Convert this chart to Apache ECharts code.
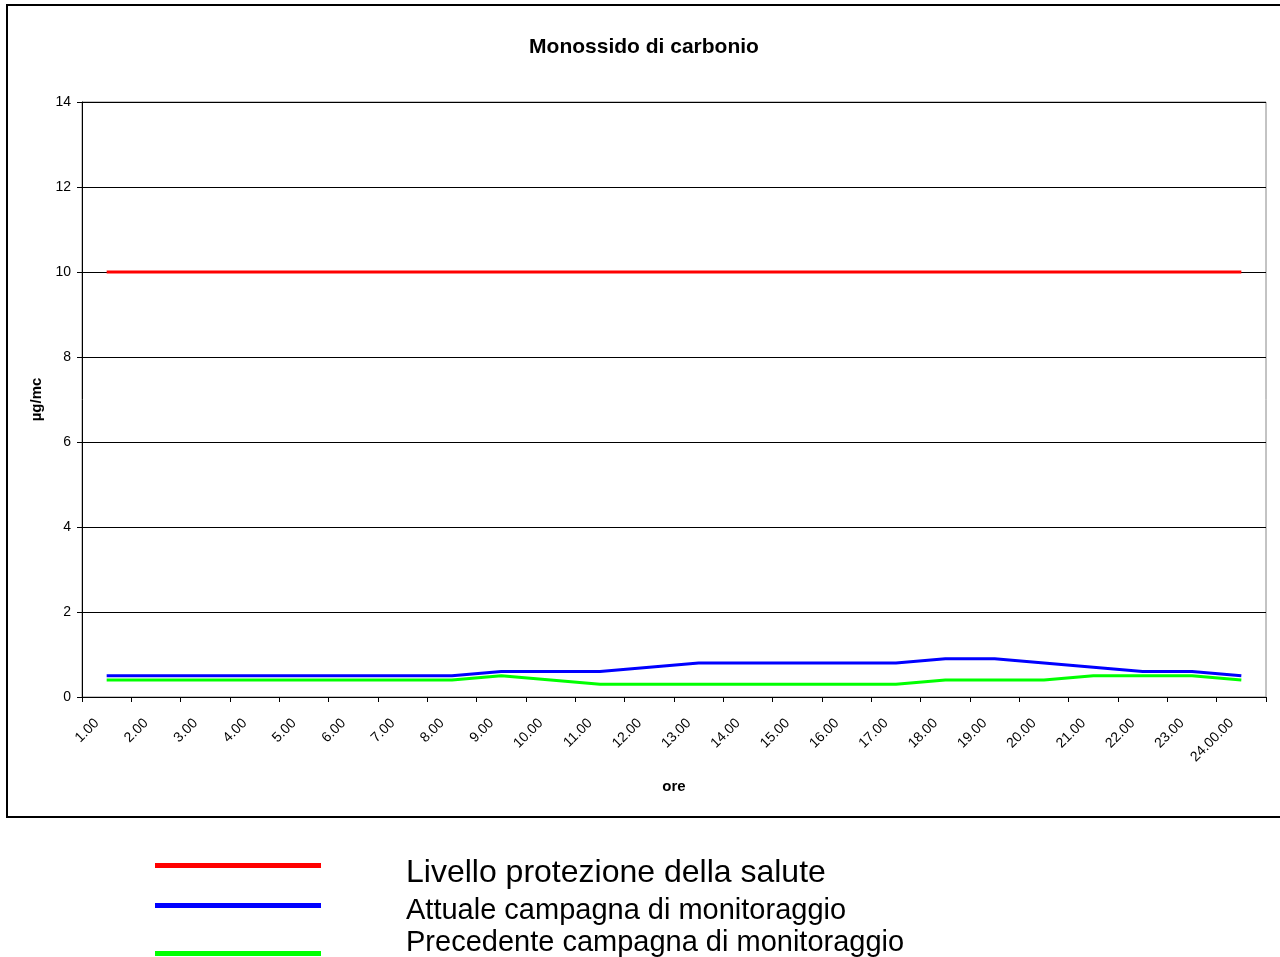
<!DOCTYPE html>
<html>
<head>
<meta charset="utf-8">
<script src="https://cdn.jsdelivr.net/npm/echarts@6/dist/echarts.min.js"></script>
<style>
html,body{margin:0;padding:0;background:#fff;}
#chart{width:1280px;height:957px;}
</style>
</head>
<body>
<div id="chart"></div>
<script>
var categories = ['1.00','2.00','3.00','4.00','5.00','6.00','7.00','8.00','9.00','10.00','11.00','12.00','13.00','14.00','15.00','16.00','17.00','18.00','19.00','20.00','21.00','22.00','23.00','24.00.00'];
var livello = [10,10,10,10,10,10,10,10,10,10,10,10,10,10,10,10,10,10,10,10,10,10,10,10];
var attuale = [0.5,0.5,0.5,0.5,0.5,0.5,0.5,0.5,0.6,0.6,0.6,0.7,0.8,0.8,0.8,0.8,0.8,0.9,0.9,0.8,0.7,0.6,0.6,0.5];
var precedente = [0.4,0.4,0.4,0.4,0.4,0.4,0.4,0.4,0.5,0.4,0.3,0.3,0.3,0.3,0.3,0.3,0.3,0.4,0.4,0.4,0.5,0.5,0.5,0.4];
var seriesNames = ['Livello protezione della salute','Attuale campagna di monitoraggio','Precedente campagna di monitoraggio'];
var seriesColors = ['#ff0000','#0000ff','#00ff00'];

var FONT = 'Arial, "Liberation Sans", sans-serif';
var chart = echarts.init(document.getElementById('chart'), null, {renderer:'canvas'});

var legendGraphics = [];
var lineYs = [865, 905, 953];
var textTops = [857, 896, 928];
var textSizes = [32, 29, 29];
for (var i = 0; i < 3; i++) {
  legendGraphics.push({type:'rect', left:155, top:lineYs[i]-2, shape:{x:0,y:0,width:166,height:5}, style:{fill:seriesColors[i]}, silent:true});
  legendGraphics.push({type:'text', left:406, top:textTops[i], style:{text:seriesNames[i], font:textSizes[i] + 'px ' + FONT, fill:'#000'}, silent:true});
}
legendGraphics.push({type:'rect', shape:{x:7,y:5,width:1300,height:812}, style:{fill:'none', stroke:'#000', lineWidth:2}, silent:true, z:-1});

chart.setOption({
  animation:false,
  backgroundColor:'#fff',
  title:{text:'Monossido di carbonio', left:639, textAlign:'center', top:32, textStyle:{fontFamily:FONT, fontSize:21, fontWeight:'bold', color:'#000'}},
  grid:{left:82, right:14, top:102, bottom:260, show:true, borderColor:'#888', borderWidth:1, backgroundColor:'transparent'},
  xAxis:{
    type:'category', data:categories, boundaryGap:true,
    name:'ore', nameLocation:'middle', nameGap:82,
    nameTextStyle:{fontFamily:FONT, fontSize:15, fontWeight:'bold', color:'#000'},
    axisLine:{lineStyle:{color:'#000', width:1}},
    axisTick:{show:true, length:5, inside:false, alignWithLabel:false, interval:0, lineStyle:{color:'#000'}},
    axisLabel:{interval:0, rotate:45, margin:14, padding:[0,14,0,0], fontFamily:FONT, fontSize:14, color:'#000'},
    splitLine:{show:false}
  },
  yAxis:{
    type:'value', min:0, max:14, interval:2,
    name:'µg/mc', nameLocation:'middle', nameGap:37, nameRotate:90,
    nameTextStyle:{fontFamily:FONT, fontSize:15, fontWeight:'bold', color:'#000'},
    axisLine:{show:true, lineStyle:{color:'#000', width:1}},
    axisTick:{show:true, length:5, inside:false, lineStyle:{color:'#000'}},
    axisLabel:{margin:11, fontFamily:FONT, fontSize:14, color:'#000'},
    splitLine:{show:true, lineStyle:{color:'#000', width:1}}
  },
  series:[
    {name:seriesNames[2], type:'line', data:precedente, symbol:'none', lineStyle:{color:seriesColors[2], width:3}, itemStyle:{color:seriesColors[2]}},
    {name:seriesNames[1], type:'line', data:attuale, symbol:'none', lineStyle:{color:seriesColors[1], width:3}, itemStyle:{color:seriesColors[1]}},
    {name:seriesNames[0], type:'line', data:livello, symbol:'none', lineStyle:{color:seriesColors[0], width:3}, itemStyle:{color:seriesColors[0]}}
  ],
  graphic:legendGraphics
});
</script>
</body>
</html>
